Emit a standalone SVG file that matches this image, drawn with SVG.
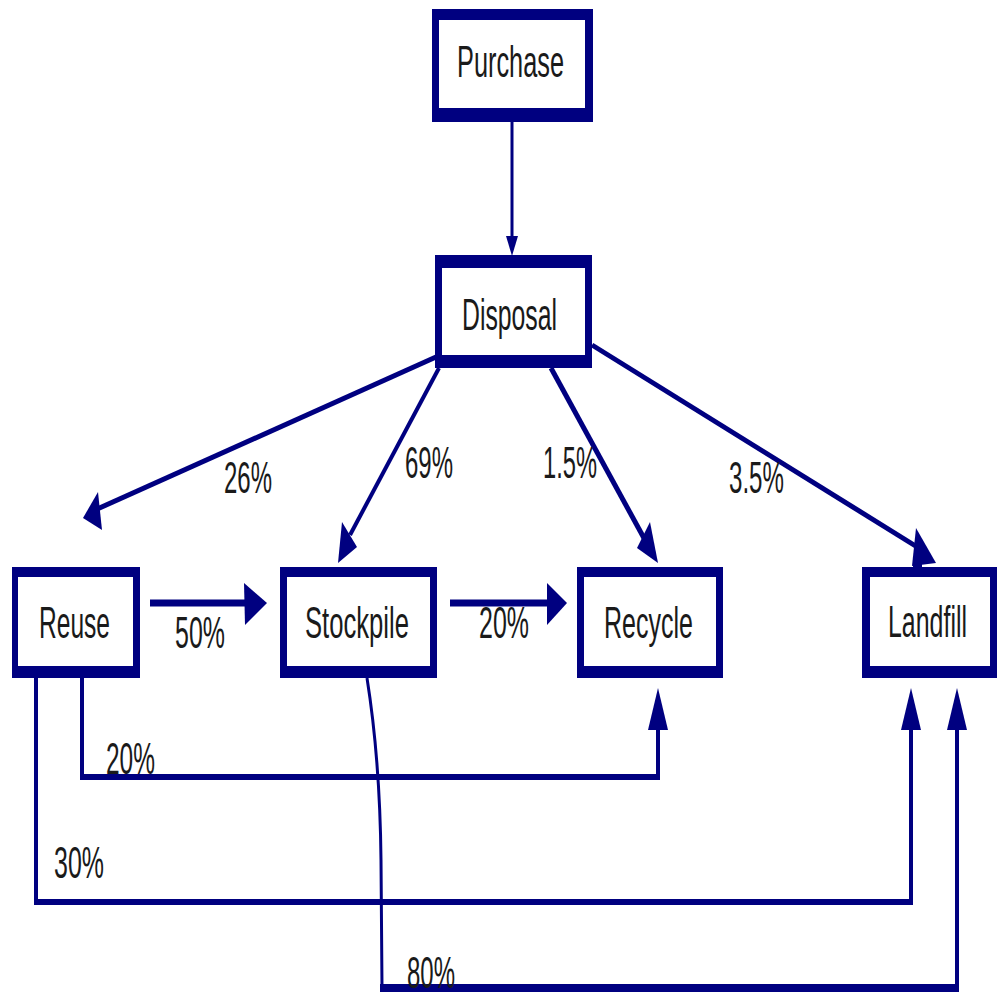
<svg xmlns="http://www.w3.org/2000/svg" width="997" height="994" viewBox="0 0 997 994">
<style>
.outer{fill:#000080}
.inner{fill:#ffffff}
.t{font-family:"Liberation Sans",Arial,sans-serif;font-size:45px;fill:#1a1a1a}
.ln{stroke:#000080;fill:none;stroke-linecap:butt}
.ah{fill:#000080}
</style>
<rect width="997" height="994" fill="#ffffff"/>
<g id="connectors">
  <line class="ln" x1="512" y1="122" x2="512" y2="240" stroke-width="3"/>
  <polygon class="ah" points="506,236 518,236 512,256"/>
  <line class="ln" x1="436" y1="357" x2="95" y2="510" stroke-width="5"/>
  <polygon class="ah" points="83,518 98,492 102,530"/>
  <line class="ln" x1="439" y1="368" x2="350" y2="535" stroke-width="4"/>
  <polygon class="ah" points="338,563 342,522 357,547"/>
  <line class="ln" x1="551" y1="368" x2="645" y2="540" stroke-width="5"/>
  <polygon class="ah" points="658,563 637,548 650,522"/>
  <line class="ln" x1="592" y1="345" x2="922" y2="550" stroke-width="5"/>
  <polygon class="ah" points="916,528 936,563 912,566"/>
  <rect class="ah" x="913" y="558" width="9" height="10"/>
  <line class="ln" x1="150" y1="603" x2="250" y2="603" stroke-width="7"/>
  <polygon class="ah" points="244,583 267,603 245,625"/>
  <line class="ln" x1="450" y1="603" x2="552" y2="603" stroke-width="7"/>
  <polygon class="ah" points="547,583 567,603 547,625"/>
  <path class="ln" d="M82,678 V777 M658,777 V728" stroke-width="4"/>
  <line class="ln" x1="80" y1="777" x2="660" y2="777" stroke-width="6"/>
  <polygon class="ah" points="658,688 648,730 668,730"/>
  <path class="ln" d="M36,678 V902 M911,902 V728" stroke-width="4"/>
  <line class="ln" x1="34" y1="902" x2="913" y2="902" stroke-width="6"/>
  <polygon class="ah" points="911,688 901,730 921,730"/>
  <path class="ln" d="M367,678 Q380,760 381,860 L382,988" stroke-width="3"/>
  <path class="ln" d="M957,988 V728" stroke-width="4"/>
  <line class="ln" x1="380" y1="988" x2="959" y2="988" stroke-width="8"/>
  <polygon class="ah" points="957,688 947,730 967,730"/>
</g>
<g id="purchase">
  <rect class="outer" x="432" y="9" width="161" height="113"/>
  <rect class="inner" x="439" y="20" width="146" height="88"/>
  <text class="t" x="457" y="77" textLength="107" lengthAdjust="spacingAndGlyphs">Purchase</text>
</g>
<g id="disposal">
  <rect class="outer" x="435" y="255" width="157" height="113"/>
  <rect class="inner" x="442" y="268" width="143" height="87"/>
  <text class="t" x="462" y="330" textLength="95" lengthAdjust="spacingAndGlyphs">Disposal</text>
</g>
<g id="reuse">
  <rect class="outer" x="12" y="567" width="128" height="111"/>
  <rect class="inner" x="18" y="577" width="115" height="89"/>
  <text class="t" x="39" y="638" textLength="71" lengthAdjust="spacingAndGlyphs">Reuse</text>
</g>
<g id="stockpile">
  <rect class="outer" x="280" y="567" width="157" height="111"/>
  <rect class="inner" x="287" y="577" width="143" height="89"/>
  <text class="t" x="305" y="638" textLength="104" lengthAdjust="spacingAndGlyphs">Stockpile</text>
</g>
<g id="recycle">
  <rect class="outer" x="577" y="567" width="146" height="111"/>
  <rect class="inner" x="584" y="577" width="132" height="89"/>
  <text class="t" x="604" y="638" textLength="89" lengthAdjust="spacingAndGlyphs">Recycle</text>
</g>
<g id="landfill">
  <rect class="outer" x="862" y="567" width="136" height="111"/>
  <rect class="inner" x="870" y="577" width="120" height="89"/>
  <text class="t" x="888" y="637" textLength="79" lengthAdjust="spacingAndGlyphs">Landfill</text>
</g>
<g id="labels">
  <text class="t" x="224" y="493" textLength="48" lengthAdjust="spacingAndGlyphs">26%</text>
  <text class="t" x="405" y="478" textLength="48" lengthAdjust="spacingAndGlyphs">69%</text>
  <text class="t" x="543" y="478" textLength="54" lengthAdjust="spacingAndGlyphs">1.5%</text>
  <text class="t" x="729" y="493" textLength="55" lengthAdjust="spacingAndGlyphs">3.5%</text>
  <text class="t" x="175" y="648" textLength="50" lengthAdjust="spacingAndGlyphs">50%</text>
  <text class="t" x="479" y="638" textLength="50" lengthAdjust="spacingAndGlyphs">20%</text>
  <text class="t" x="106" y="774" textLength="49" lengthAdjust="spacingAndGlyphs">20%</text>
  <text class="t" x="54" y="878" textLength="50" lengthAdjust="spacingAndGlyphs">30%</text>
  <text class="t" x="407" y="988" textLength="48" lengthAdjust="spacingAndGlyphs">80%</text>
</g>
</svg>
